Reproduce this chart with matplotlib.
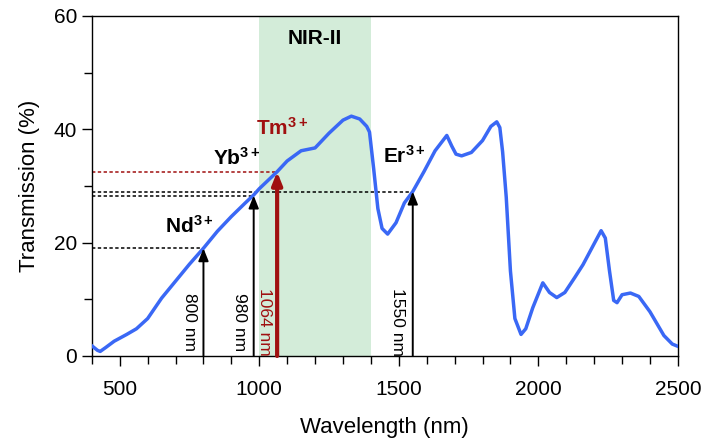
import matplotlib
matplotlib.use("Agg")
import matplotlib.pyplot as plt
from matplotlib.ticker import MultipleLocator

plt.rcParams['font.family'] = ['Liberation Sans', 'DejaVu Sans']
plt.rcParams['mathtext.fontset'] = 'custom'
plt.rcParams['mathtext.rm'] = 'Liberation Sans'
plt.rcParams['mathtext.bf'] = 'Liberation Sans:bold'
plt.rcParams['mathtext.it'] = 'Liberation Sans:italic'

wavelength = [400, 410, 420, 430, 450, 480, 525, 560, 600, 650, 700, 750, 800, 850, 900, 950,
              980, 1000, 1064, 1100, 1150, 1200, 1250, 1300, 1330, 1360, 1385, 1395, 1410, 1425,
              1440, 1460, 1490, 1520, 1550, 1590, 1630, 1672, 1690, 1705, 1725, 1760, 1800, 1830,
              1851, 1862, 1872, 1885, 1900, 1916, 1938, 1955, 1980, 2016, 2040, 2066, 2095, 2130,
              2160, 2200, 2225, 2240, 2255, 2270, 2282, 2300, 2330, 2360, 2400, 2450, 2480, 2500]
transmission = [1.8, 1.4, 1.0, 0.8, 1.5, 2.6, 3.8, 4.8, 6.6, 10.2, 13.2, 16.2, 19.0, 22.0, 24.6, 27.0,
                28.4, 29.5, 32.5, 34.4, 36.2, 36.7, 39.3, 41.6, 42.3, 41.8, 40.5, 39.5, 33.0, 26.0,
                22.5, 21.5, 23.5, 27.0, 29.0, 32.5, 36.2, 38.9, 37.0, 35.6, 35.3, 35.9, 38.0, 40.5,
                41.3, 40.3, 36.0, 28.0, 15.0, 6.6, 3.8, 4.8, 8.5, 12.9, 11.2, 10.3, 11.2, 13.8,
                16.1, 19.8, 22.1, 20.8, 15.0, 9.8, 9.4, 10.8, 11.1, 10.5, 7.8, 3.6, 2.1, 1.7]

ions = [r'$\mathbf{Nd}^{\mathbf{3+}}$', r'$\mathbf{Yb}^{\mathbf{3+}}$',
        r'$\mathbf{Tm}^{\mathbf{3+}}$', r'$\mathbf{Er}^{\mathbf{3+}}$']
laser_nm = [800, 980, 1064, 1550]
laser_T = [19.0, 28.3, 32.5, 29.0]
laser_labels = ['800 nm', '980 nm', '1064 nm', '1550 nm']
nir2_band = [1000, 1400]

blue = '#3a68f5'
red = '#a01010'

fig = plt.figure(figsize=(7.01, 4.40), dpi=100)
ax = fig.add_axes([0.131, 0.191, 0.836, 0.773])

ax.axvspan(nir2_band[0], nir2_band[1], color='#d3ecd9', zorder=0, lw=0)
ax.text(sum(nir2_band) / 2, 56, 'NIR-II', ha='center', va='center', fontsize=15, fontweight='bold')

ax.plot(wavelength, transmission, color=blue, lw=2.5, zorder=3)

colors = ['black', 'black', red, 'black']
ion_pos = [(750, 23.0), (920, 35.0), (1080, 40.3), (1520, 35.3)]
text_x = [751, 930, 1018, 1497]
for nm, t, lab, c, ion, ip, tx in zip(laser_nm, laser_T, laser_labels, colors, ions, ion_pos, text_x):
    ax.plot([400, nm], [t, t], color=c, lw=1.1, linestyle=(0, (2.2, 1.6)), zorder=2)
    lw = 3 if c == red else 1.4
    ax.annotate('', xy=(nm, t), xytext=(nm, 0),
                arrowprops=dict(arrowstyle='-|>,head_length=0.75,head_width=0.3',
                                color=c, lw=lw, shrinkA=0, shrinkB=0), zorder=4)
    ax.text(tx, 6.0, lab, rotation=270, ha='center', va='center', fontsize=12.5, color=c)
    ax.text(ip[0], ip[1], ion, ha='center', va='center', fontsize=15, color=c)

ax.set_xlim(400, 2500)
ax.set_ylim(0, 60)
ax.xaxis.set_major_locator(MultipleLocator(500))
ax.xaxis.set_minor_locator(MultipleLocator(100))
ax.yaxis.set_major_locator(MultipleLocator(20))
ax.yaxis.set_minor_locator(MultipleLocator(10))
ax.tick_params(axis='both', which='major', direction='out', length=7, width=1, labelsize=15)
ax.tick_params(axis='both', which='minor', direction='out', length=6, width=1)
ax.tick_params(axis='x', pad=10)
ax.set_xlabel('Wavelength (nm)', fontsize=16, labelpad=13)
ax.set_ylabel('Transmission (%)', fontsize=16, labelpad=10)
for s in ax.spines.values():
    s.set_linewidth(1)

fig.savefig('out.png', dpi=100)
